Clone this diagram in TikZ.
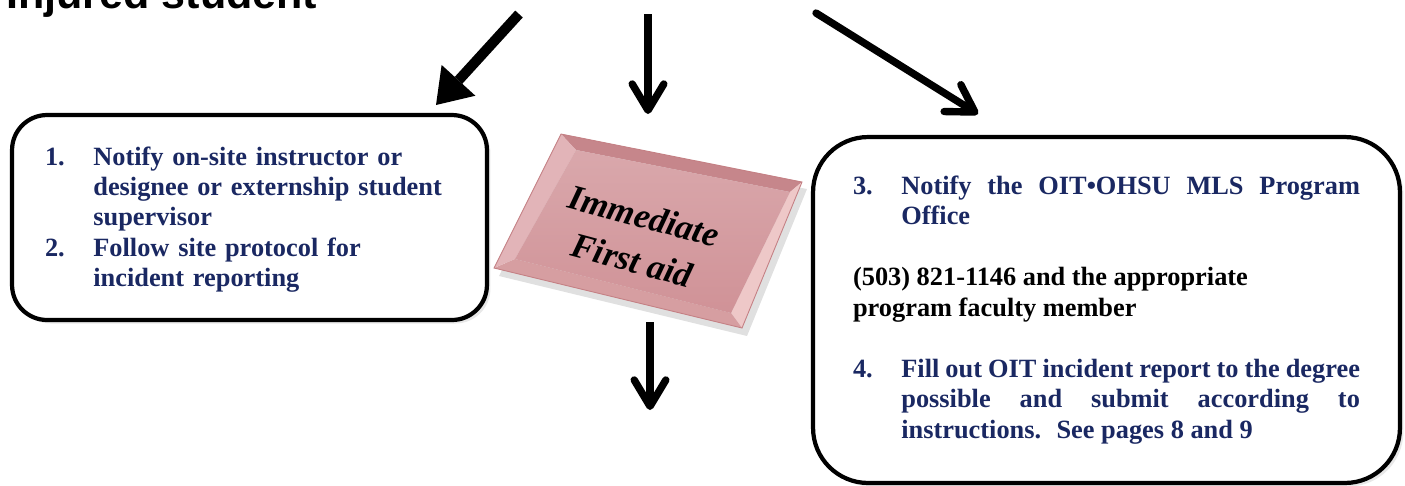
\documentclass[tikz,border=0pt]{standalone}
\usepackage{fontspec}
\setmainfont{Liberation Serif}
\setsansfont{Liberation Sans}
\usepackage{xcolor}
\usetikzlibrary{arrows.meta,shadows}

\definecolor{stepnavy}{RGB}{26,40,98}
\definecolor{aidface}{RGB}{208,146,151}
\definecolor{aidtop}{RGB}{198,134,139}
\definecolor{aidleft}{RGB}{226,180,184}
\definecolor{aidbottom}{RGB}{214,158,161}
\definecolor{aidright}{RGB}{238,200,200}
\definecolor{aidedge}{RGB}{196,128,132}

\newcommand{\stepitem}[2]{\par\noindent\hangindent=27.5pt\hangafter=1\makebox[27.5pt][l]{#1}#2\par}

\begin{document}
\begin{tikzpicture}[x=0.02cm, y=-0.02cm,
    stepbox/.style={draw, fill=white, line width=2.4pt,
      font=\bfseries\fontsize{15}{17.3}\selectfont,
      drop shadow={opacity=0.18, shadow xshift=2pt, shadow yshift=-2pt}},
    fatarrow/.style={line width=5.8pt, -{Triangle[length=19pt,width=26pt,line width=0pt]}},
    barbarrow/.style={line width=4.2pt, -{Straight Barb[length=15pt,width=18pt,round]}}]
  \useasboundingbox (0,0) rectangle (1405,485);

  \node[anchor=base west, inner sep=0pt, font=\sffamily\bfseries\fontsize{24.5}{28}\selectfont] (injured) at (6,8) {Injured student};

  % left box
  \node[stepbox, rounded corners=0.7cm, minimum width=9.5cm, minimum height=4.1cm,
        text width=8.18cm, align=left, text=stepnavy] (notify) at (249.5,217.5)
    {\stepitem{1.}{Notify on-site instructor or\newline designee or externship student\newline supervisor}%
     \stepitem{2.}{Follow site protocol for\newline incident reporting}\vspace{4.5pt}};

  % right box
  \node[stepbox, rounded corners=1.1cm, minimum width=11.74cm, minimum height=6.92cm,
        text width=10.14cm, align=justify, text=stepnavy] (office) at (1106.5,310)
    {\stepitem{3.}{Notify the OIT•OHSU MLS Program\linebreak Office}%
     \vspace{17.5pt}%
     \noindent{\color{black}(503) 821-1146 and the appropriate\newline program faculty member}\par
     \vspace{17.5pt}%
     \stepitem{4.}{Fill out OIT incident report to the degree\linebreak possible and submit according to\linebreak instructions.~ See pages 8 and 9}\vspace{7pt}};

  % first aid plate
  \coordinate (a1) at (561,134);
  \coordinate (a2) at (802,182);
  \coordinate (a3) at (742,328);
  \coordinate (a4) at (494,268);
  \coordinate (b1) at (576,150);
  \coordinate (b2) at (790,192);
  \coordinate (b3) at (731,313);
  \coordinate (b4) at (515,259);
  \fill[black, opacity=0.12] (566,141) -- (807,189) -- (747,336) -- (499,276) -- cycle;
  \fill[aidtop] (a1) -- (a2) -- (b2) -- (b1) -- cycle;
  \fill[aidright] (a2) -- (a3) -- (b3) -- (b2) -- cycle;
  \fill[aidbottom] (a3) -- (a4) -- (b4) -- (b3) -- cycle;
  \fill[aidleft] (a4) -- (a1) -- (b1) -- (b4) -- cycle;
  \shade[top color=aidface!80!white, bottom color=aidface] (b1) -- (b2) -- (b3) -- (b4) -- cycle;
  \draw[aidedge, line width=0.5pt] (a1) -- (a2) -- (a3) -- (a4) -- cycle;
  \node[rotate=-15, align=center, font=\bfseries\itshape\fontsize{20}{26}\selectfont] (aid) at (638,238) {Immediate\\First aid};

  % arrows
  \coordinate (from1) at (519,14);
  \coordinate (to1) at (436,105);
  \coordinate (from2) at (648,14);
  \coordinate (to2) at (648,114);
  \coordinate (from3) at (816,13);
  \coordinate (to3) at (978,114);
  \coordinate (from4) at (650,322);
  \coordinate (to4) at (650,410);
  \draw[fatarrow] (from1) -- (to1);
  \draw[barbarrow] (from2) -- (to2);
  \draw[barbarrow, line cap=round] (from3) -- (to3);
  \draw[barbarrow] (from4) -- (to4);
\end{tikzpicture}
\end{document}
